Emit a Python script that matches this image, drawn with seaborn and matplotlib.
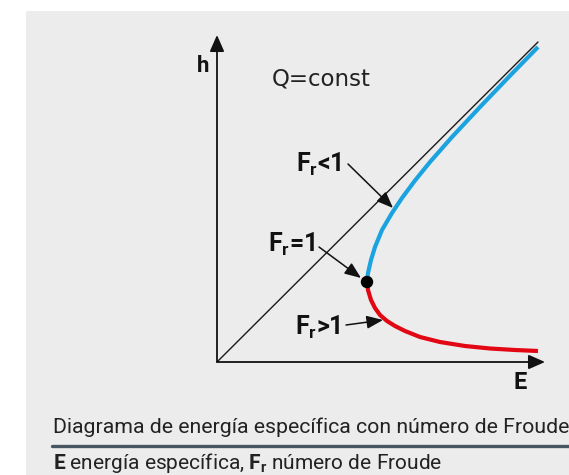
import matplotlib
matplotlib.use("Agg")
import matplotlib.pyplot as plt
from matplotlib.patches import Rectangle
from matplotlib.lines import Line2D
import pandas as pd
import seaborn as sns

# Specific energy curve for constant discharge (E on x, depth h on y)
subcritical_E = [1.50, 1.505, 1.51, 1.54, 1.58, 1.65, 1.75, 1.85, 1.98, 2.13, 2.35, 2.63, 2.93, 3.21]
subcritical_h = [0.80, 0.85, 0.89, 1.02, 1.15, 1.32, 1.49, 1.64, 1.815, 2.00, 2.25, 2.55, 2.863, 3.15]
supercritical_E = [1.50, 1.51, 1.54, 1.58, 1.63, 1.70, 1.78, 1.88, 2.03, 2.23, 2.48, 2.73, 2.98, 3.21]
supercritical_h = [0.80, 0.72, 0.62, 0.54, 0.47, 0.41, 0.36, 0.31, 0.25, 0.20, 0.16, 0.135, 0.12, 0.11]
diagonal_E = [0.0, 3.21]
diagonal_h = [0.0, 3.20]
critical_E = [1.50]
critical_h = [0.80]

regime_labels = [r"$\mathbf{F_r}$<1", r"$\mathbf{F_r}$=1", r"$\mathbf{F_r}$>1"]
caption = "Diagrama de energía específica con número de Froude"
legend_text = r"$\mathbf{E}$ energía específica, $\mathbf{F_r}$ número de Froude"

sns.set_style("white")
plt.rcParams["font.family"] = ["Roboto", "DejaVu Sans"]
plt.rcParams["mathtext.fontset"] = "custom"
plt.rcParams["mathtext.rm"] = "Roboto"
plt.rcParams["mathtext.bf"] = "Roboto:bold"
plt.rcParams["mathtext.it"] = "Roboto:italic"

W, H = 569, 475
fig = plt.figure(figsize=(W / 100, H / 100), dpi=100, facecolor="white")

# light grey panel behind everything
fig.patches.append(Rectangle((26 / W, 0), 1 - 26 / W, (H - 11) / H,
                             transform=fig.transFigure, facecolor="#ececec",
                             edgecolor="none", zorder=-10))

# axes: origin of the diagram at (217, 362) px, 100 px per unit
x0, y0 = 217, 362
ax = fig.add_axes([x0 / W, (H - y0) / H, 343 / W, 337 / H])
ax.set_zorder(5)
ax.set_xlim(0, 3.43)
ax.set_ylim(0, 3.37)
ax.set_facecolor("none")
ax.patch.set_alpha(0)
for s in ax.spines.values():
    s.set_visible(False)
ax.set_xticks([])
ax.set_yticks([])

sub = pd.DataFrame({"E": subcritical_E, "h": subcritical_h})
sup = pd.DataFrame({"E": supercritical_E, "h": supercritical_h})
diag = pd.DataFrame({"E": diagonal_E, "h": diagonal_h})
crit = pd.DataFrame({"E": critical_E, "h": critical_h})

sns.lineplot(data=diag, x="E", y="h", ax=ax, color="#1a1a1a", lw=1.0,
             sort=False, estimator=None)
sns.lineplot(data=sub, x="E", y="h", ax=ax, color="#1ba3e0", lw=3.0,
             sort=False, estimator=None, solid_capstyle="butt",
             solid_joinstyle="round")
sns.lineplot(data=sup, x="E", y="h", ax=ax, color="#e30613", lw=3.0,
             sort=False, estimator=None, solid_capstyle="butt",
             solid_joinstyle="round")
sns.scatterplot(data=crit, x="E", y="h", ax=ax, color="black", s=80,
                edgecolor="none", zorder=5)
ax.set_xlabel("")
ax.set_ylabel("")

# coordinate axes with arrow heads
axis_arrow = dict(arrowstyle="-|>,head_length=0.5,head_width=0.22", lw=1.3,
                  color="#111111", mutation_scale=20, shrinkA=0, shrinkB=0)
ax.annotate("", xy=(3.28, 0), xytext=(0, 0), arrowprops=axis_arrow,
            annotation_clip=False)
ax.annotate("", xy=(0, 3.27), xytext=(0, 0), arrowprops=axis_arrow,
            annotation_clip=False)

ax.text(-0.14, 2.90, "h", ha="center", va="baseline", fontsize=16,
        fontweight="bold", color="#111111")
ax.text(3.03, -0.27, "E", ha="center", va="baseline", fontsize=17,
        fontweight="bold", color="#111111")
ax.text(0.55, 2.77, "Q=const", ha="left", va="baseline", fontsize=16.5,
        color="#222222", family="DejaVu Sans")

# regime labels with pointer arrows
pointer = dict(arrowstyle="-|>,head_length=0.55,head_width=0.22", lw=1.1,
               color="#111111", mutation_scale=18, shrinkA=0, shrinkB=0)
label_pos = [(1.25, 1.90), (0.98, 1.10), (1.24, 0.27)]
arrow_from = [(1.31, 1.98), (1.02, 1.15), (1.29, 0.37)]
arrow_to = [(1.76, 1.54), (1.44, 0.84), (1.66, 0.42)]
for lab, (lx, ly), a, b in zip(regime_labels, label_pos, arrow_from, arrow_to):
    ax.text(lx, ly, lab, ha="right", va="baseline", fontsize=18,
            fontweight="bold", color="#111111")
    ax.annotate("", xy=b, xytext=a, arrowprops=pointer, annotation_clip=False)

# caption block
fig.text(53 / W, (H - 433) / H, caption, ha="left", va="baseline",
         fontsize=15.3, color="#222222")
fig.add_artist(Line2D([52 / W, 1.0], [(H - 446) / H] * 2,
                      transform=fig.transFigure, color="#46555f", lw=2.4))
fig.text(53 / W, (H - 469) / H, legend_text, ha="left", va="baseline",
         fontsize=15.0, color="#222222")

fig.savefig("out.png", dpi=100, facecolor="white")
